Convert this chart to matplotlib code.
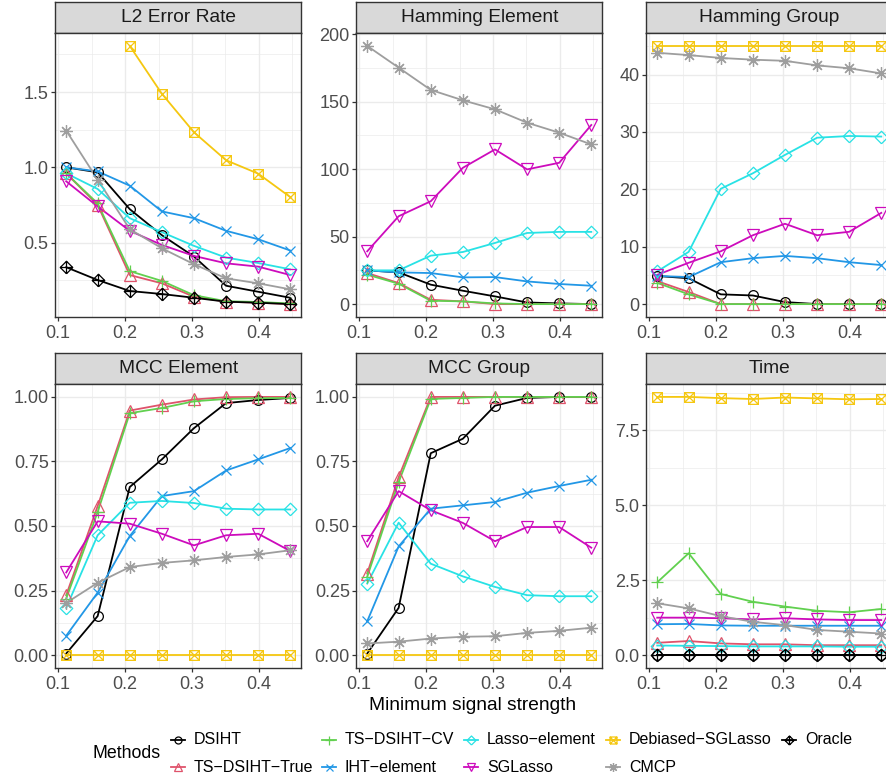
import numpy as np
import matplotlib
matplotlib.use("Agg")
import matplotlib.pyplot as plt
from matplotlib.path import Path
from matplotlib.lines import Line2D

plt.rcParams['font.family'] = ['Liberation Sans', 'DejaVu Sans']

# minimum signal strength (x axis)
strength = [0.112, 0.159, 0.207, 0.255, 0.303, 0.351, 0.399, 0.447]

methods = ['DSIHT', 'TS\u2212DSIHT\u2212True', 'TS\u2212DSIHT\u2212CV', 'IHT\u2212element',
           'Lasso\u2212element', 'SGLasso', 'Debiased\u2212SGLasso', 'CMCP', 'Oracle']
colors = ['black', '#DF536B', '#61D04F', '#2297E6', '#28E2E5', '#CD0BBC', '#F5C710', '#9E9E9E', 'black']

nan = np.nan

# values, one list per method (same order as `methods`)
l2_error = [
    [1.00, 0.967, 0.722, 0.549, 0.407, 0.213, 0.173, 0.133],
    [0.96, 0.75, 0.284, 0.229, 0.14, 0.107, 0.10, 0.091],
    [0.96, 0.76, 0.31, 0.245, 0.15, 0.11, 0.105, 0.095],
    [1.00, 0.973, 0.878, 0.707, 0.662, 0.578, 0.522, 0.447],
    [0.96, 0.856, 0.662, 0.569, 0.478, 0.40, 0.364, 0.322],
    [0.907, 0.74, 0.578, 0.484, 0.411, 0.362, 0.34, 0.284],
    [nan, nan, 1.807, 1.489, 1.233, 1.047, 0.958, 0.802],
    [1.244, 0.918, 0.589, 0.462, 0.356, 0.262, 0.229, 0.189],
    [0.336, 0.251, 0.178, 0.158, 0.133, 0.107, 0.10, 0.091],
]
hamming_element = [
    [25, 23.5, 14.4, 9.9, 5.7, 1.2, 0.5, 0],
    [23, 15.6, 3.2, 2.0, 0, 0, 0, 0],
    [21.8, 15.1, 2.5, 2.0, 0.5, 0, 0, 0],
    [25, 23.5, 23, 19.8, 20, 16.8, 14.9, 13.6],
    [25, 25, 35.9, 38.6, 45.3, 52.7, 53.5, 53.5],
    [39.1, 65.1, 76.2, 101, 114.6, 99.8, 104.7, 132.7],
    [nan] * 8,
    [191.3, 175.2, 158.7, 151, 144.3, 134.4, 127, 118.3],
    [nan] * 8,
]
hamming_group = [
    [4.9, 4.5, 1.7, 1.5, 0.35, 0, 0, 0],
    [4.0, 2.1, 0, 0, 0, 0, 0, 0],
    [3.7, 1.7, 0, 0, 0, 0, 0, 0],
    [4.9, 4.7, 7.3, 8.0, 8.4, 8.0, 7.3, 6.8],
    [5.7, 9.1, 20.1, 22.8, 26.0, 29.0, 29.3, 29.2],
    [5.1, 7.2, 9.2, 12.0, 14.0, 12.0, 12.6, 15.9],
    [45, 45, 45, 45, 45, 45, 45, 45],
    [43.8, 43.4, 42.9, 42.6, 42.4, 41.6, 41.1, 40.2],
    [nan] * 8,
]
mcc_element = [
    [0.006, 0.151, 0.651, 0.758, 0.879, 0.976, 0.988, 0.996],
    [0.232, 0.577, 0.947, 0.970, 0.99, 0.999, 1.0, 1.0],
    [0.219, 0.554, 0.937, 0.957, 0.983, 0.992, 0.995, 0.996],
    [0.075, 0.242, 0.461, 0.616, 0.635, 0.715, 0.758, 0.802],
    [0.183, 0.464, 0.59, 0.597, 0.589, 0.567, 0.564, 0.564],
    [0.32, 0.518, 0.509, 0.47, 0.425, 0.464, 0.47, 0.403],
    [0, 0, 0, 0, 0, 0, 0, 0],
    [0.202, 0.28, 0.341, 0.357, 0.367, 0.38, 0.39, 0.406],
    [nan] * 8,
]
mcc_group = [
    [0.006, 0.183, 0.782, 0.838, 0.966, 0.996, 1.0, 1.0],
    [0.316, 0.689, 1.0, 1.0, 1.0, 1.0, 1.0, 1.0],
    [0.303, 0.67, 0.992, 0.996, 1.0, 1.0, 1.0, 1.0],
    [0.131, 0.421, 0.567, 0.58, 0.593, 0.629, 0.655, 0.679],
    [0.277, 0.513, 0.354, 0.305, 0.264, 0.232, 0.228, 0.228],
    [0.441, 0.635, 0.561, 0.512, 0.441, 0.496, 0.496, 0.416],
    [0, 0, 0, 0, 0, 0, 0, 0],
    [0.045, 0.052, 0.064, 0.071, 0.073, 0.086, 0.094, 0.106],
    [nan] * 8,
]
time_sec = [
    [0.01, 0.01, 0.01, 0.01, 0.01, 0.01, 0.01, 0.01],
    [0.41, 0.47, 0.39, 0.36, 0.36, 0.33, 0.33, 0.33],
    [2.43, 3.40, 2.04, 1.78, 1.62, 1.48, 1.43, 1.54],
    [1.03, 1.04, 0.99, 0.98, 0.98, 0.98, 0.98, 0.98],
    [0.32, 0.31, 0.30, 0.29, 0.29, 0.29, 0.28, 0.28],
    [1.25, 1.25, 1.23, 1.19, 1.23, 1.19, 1.17, 1.17],
    [8.62, 8.62, 8.58, 8.55, 8.60, 8.57, 8.54, 8.55],
    [1.73, 1.56, 1.30, 1.11, 1.00, 0.84, 0.78, 0.72],
    [0, 0, 0, 0, 0, 0, 0, 0],
]

titles = ['L2 Error Rate', 'Hamming Element', 'Hamming Group', 'MCC Element', 'MCC Group', 'Time']
panel_data = [l2_error, hamming_element, hamming_group, mcc_element, mcc_group, time_sec]
yticks = [
    ([0.5, 1.0, 1.5], ['0.5', '1.0', '1.5'], [0.25, 0.75, 1.25, 1.75]),
    ([0, 50, 100, 150, 200], ['0', '50', '100', '150', '200'], [25, 75, 125, 175]),
    ([0, 10, 20, 30, 40], ['0', '10', '20', '30', '40'], [5, 15, 25, 35, 45]),
    ([0, 0.25, 0.5, 0.75, 1.0], ['0.00', '0.25', '0.50', '0.75', '1.00'], [0.125, 0.375, 0.625, 0.875]),
    ([0, 0.25, 0.5, 0.75, 1.0], ['0.00', '0.25', '0.50', '0.75', '1.00'], [0.125, 0.375, 0.625, 0.875]),
    ([0, 2.5, 5.0, 7.5], ['0.0', '2.5', '5.0', '7.5'], [1.25, 3.75, 6.25, 8.75]),
]

# R-style point shapes
M, L = Path.MOVETO, Path.LINETO
square_x = Path([(-1, -1), (1, -1), (1, 1), (-1, 1), (-1, -1), (-1, -1), (1, 1), (-1, 1), (1, -1)],
                [M, L, L, L, L, M, L, M, L])
diamond = Path([(0, -1), (1, 0), (0, 1), (-1, 0), (0, -1)], [M, L, L, L, L])
diamond_plus = Path([(0, -1), (1, 0), (0, 1), (-1, 0), (0, -1), (0, -1), (0, 1), (-1, 0), (1, 0)],
                    [M, L, L, L, L, M, L, M, L])
markers = ['o', '^', '+', 'x', diamond, 'v', square_x, (8, 2, 0), diamond_plus]
msizes = [7, 8, 9, 7, 9, 8, 7, 9, 9]

W, H = 887, 775
fig = plt.figure(figsize=(W / 100, H / 100), dpi=100)


def px_axes(left, top, right, bottom):
    return fig.add_axes([left / W, 1 - bottom / H, (right - left) / W, (bottom - top) / H])


col_left = [55, 356, 646]
pw = 246.5
rows = [(2, 33, 317), (353, 384, 668)]

for k, (title, data) in enumerate(zip(titles, panel_data)):
    r, c = divmod(k, 3)
    st, sb, pb = rows[r]
    x0 = col_left[c]
    sax = px_axes(x0, st, x0 + pw, sb)
    sax.set_facecolor('#D9D9D9')
    sax.set_xticks([])
    sax.set_yticks([])
    for s in sax.spines.values():
        s.set_color('#333333')
        s.set_linewidth(1.0)
    sax.text(0.5, 0.5, title, ha='center', va='center', fontsize=13.8, color='#1A1A1A',
             transform=sax.transAxes)

    ax = px_axes(x0, sb, x0 + pw, pb)
    for i in range(len(methods)):
        ax.plot(strength, data[i], color=colors[i], lw=1.3, zorder=2)
    for i in range(len(methods)):
        ax.plot(strength, data[i], linestyle='none', marker=markers[i], ms=msizes[i],
                mfc='none', mec=colors[i], mew=0.9, zorder=3)

    ax.margins(x=0.05, y=0.05)
    ax.set_xticks([0.1, 0.2, 0.3, 0.4], ['0.1', '0.2', '0.3', '0.4'])
    ax.set_xticks([0.15, 0.25, 0.35, 0.45], minor=True)
    yt, yl, ym = yticks[k]
    ax.set_yticks(yt, yl)
    ax.set_yticks(ym, minor=True)
    ax.grid(True, which='major', color='#EBEBEB', lw=1.0, zorder=0)
    ax.grid(True, which='minor', color='#EBEBEB', lw=0.5, zorder=0)
    ax.set_axisbelow(True)
    ax.tick_params(which='major', length=3, width=0.9, color='#333333', labelcolor='#4D4D4D',
                   labelsize=13)
    ax.tick_params(axis='x', which='major', pad=3)
    ax.tick_params(axis='y', which='major', pad=1.5)
    ax.tick_params(which='minor', length=0)
    for s in ax.spines.values():
        s.set_color('#333333')
        s.set_linewidth(1.0)

fig.text(473 / W, 1 - 705 / H, 'Minimum signal strength', ha='center', va='center', fontsize=13.8)

# legend: 2 rows, filled column by column, title on the left
fig.text(93 / W, 1 - 754 / H, 'Methods', ha='left', va='center', fontsize=12.8)
key_x = [178, 329, 471, 613, 789]
key_y = [740, 767]
for i, name in enumerate(methods):
    cx, cy = key_x[i // 2], key_y[i % 2]
    fig.add_artist(Line2D([(cx - 7) / W, (cx + 7) / W], [1 - cy / H, 1 - cy / H],
                          transform=fig.transFigure, color=colors[i], lw=1.3))
    fig.add_artist(Line2D([cx / W], [1 - cy / H], transform=fig.transFigure, linestyle='none',
                          marker=markers[i], ms=msizes[i] * 0.72, mfc='none', mec=colors[i], mew=0.9))
    fig.text((cx + 16) / W, 1 - cy / H, name, ha='left', va='center', fontsize=11.5)

fig.savefig('out.png', dpi=100)
